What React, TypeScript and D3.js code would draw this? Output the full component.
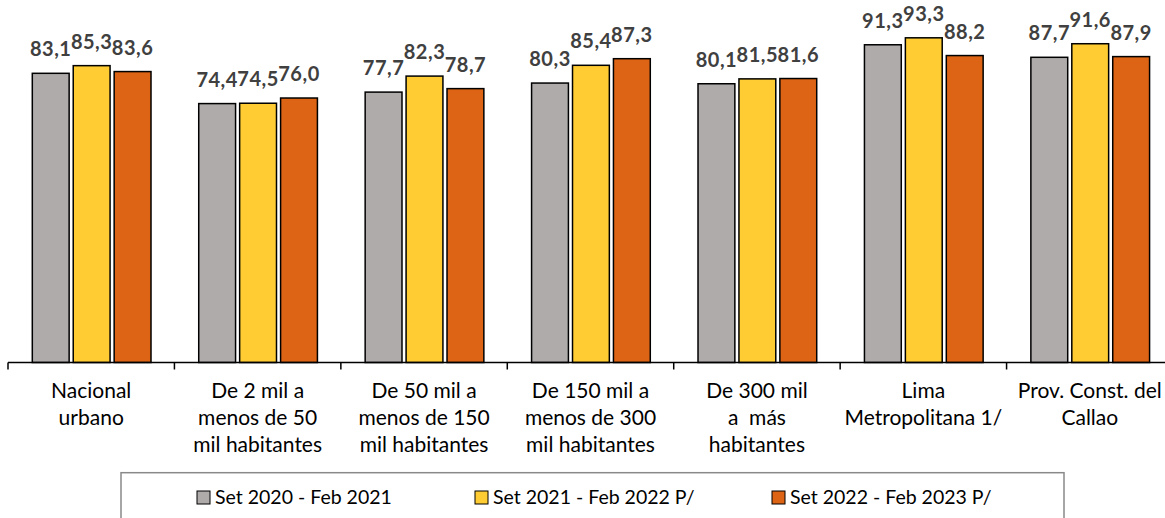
import React from "react";
import * as d3 from "d3";

const categories: string[][] = [
  ["Nacional", "urbano"],
  ["De 2 mil a", "menos de 50", "mil habitantes"],
  ["De 50 mil a", "menos de 150", "mil habitantes"],
  ["De 150 mil a", "menos de 300", "mil habitantes"],
  ["De 300 mil", "a  más", "habitantes"],
  ["Lima", "Metropolitana 1/"],
  ["Prov. Const. del", "Callao"],
];
const seriesNames = ["Set 2020 - Feb 2021", "Set 2021 - Feb 2022 P/", "Set 2022 - Feb 2023 P/"];
const s2020 = [83.1, 74.4, 77.7, 80.3, 80.1, 91.3, 87.7];
const s2021 = [85.3, 74.5, 82.3, 85.4, 81.5, 93.3, 91.6];
const s2022 = [83.6, 76.0, 78.7, 87.3, 81.6, 88.2, 87.9];
const seriesValues = [s2020, s2021, s2022];
const colors = ["#AFABAB", "#FFCC33", "#DC6414"];

const W = 1165;
const H = 518;
const FONT = "Lato, 'Open Sans', sans-serif";

export default function App() {
  const keys = categories.map((_, i) => String(i));
  const x = d3.scaleBand<string>().domain(keys).range([8, 1173]).paddingInner(0).paddingOuter(0);
  const xs = d3.scaleBand<string>().domain(["0", "1", "2"]).range([24.3, 143]).paddingInner(0.1);
  const y = d3.scaleLinear().domain([0, 100]).range([362.5, 14.5]);
  const fmt = (v: number) => v.toFixed(1).replace(".", ",");
  const ticks = keys.map((k) => x(k)!).concat([x(keys[keys.length - 1])! + x.bandwidth()]);
  const legendX = [197, 475, 772];

  return (
    <div style={{ position: "absolute", left: 0, top: 0 }}>
      <svg width={W} height={H} style={{ display: "block", background: "#fff" }}>
        {keys.map((k, ci) => (
          <g key={k} transform={`translate(${x(k)},0)`}>
            {seriesValues.map((vals, si) => {
              const v = vals[ci];
              const bx = xs(String(si))!;
              return (
                <g key={si}>
                  <rect
                    x={bx}
                    y={y(v)}
                    width={xs.bandwidth()}
                    height={y(0) - y(v)}
                    fill={colors[si]}
                    stroke="#000"
                    strokeWidth={1.5}
                  />
                  <text
                    x={bx + xs.bandwidth() / 2}
                    y={y(v) - 17}
                    textAnchor="middle"
                    fontFamily={FONT}
                    fontWeight="bold"
                    fontSize={20}
                    fill="#404040"
                    letterSpacing={0.5}
                  >
                    {fmt(v)}
                  </text>
                </g>
              );
            })}
            {categories[ci].map((line, li) => (
              <text
                key={li}
                x={x.bandwidth() / 2}
                y={397.5 + li * 27}
                textAnchor="middle"
                fontFamily={FONT}
                fontSize={21}
                fill="#000"
                style={{ whiteSpace: "pre" }}
              >
                {line}
              </text>
            ))}
          </g>
        ))}
        <line x1={8} x2={1173} y1={y(0)} y2={y(0)} stroke="#000" strokeWidth={1.5} />
        {ticks.map((t, i) => (
          <line key={i} x1={t} x2={t} y1={y(0)} y2={y(0) + 7} stroke="#000" strokeWidth={1.5} />
        ))}
        <rect x={121} y={472.7} width={943} height={60} fill="none" stroke="#898989" strokeWidth={1.5} />
        {seriesNames.map((name, i) => (
          <g key={name}>
            <rect x={legendX[i]} y={491} width={13} height={13} fill={colors[i]} stroke="#000" strokeWidth={1} />
            <text x={legendX[i] + 18} y={503.5} fontFamily={FONT} fontSize={19.5} fill="#000">
              {name}
            </text>
          </g>
        ))}
      </svg>
    </div>
  );
}
